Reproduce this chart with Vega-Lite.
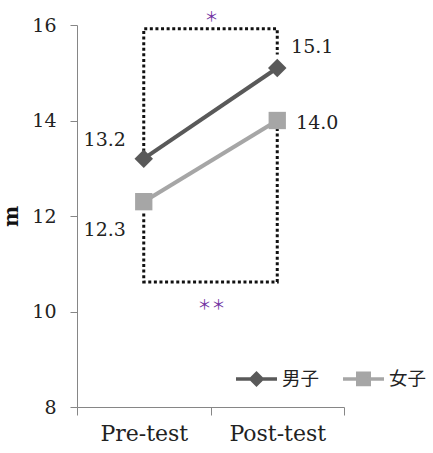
{
  "$schema": "https://vega.github.io/schema/vega-lite/v6.json",
  "width": 267,
  "height": 382,
  "autosize": {"type": "none"},
  "padding": {"left": 77, "top": 25, "right": 89, "bottom": 46},
  "background": "white",
  "config": {"view": {"stroke": null}, "font": "DejaVu Serif"},
  "datasets": {
    "series": [
      {"test": "Pre-test", "sex": "男子", "value": 13.2},
      {"test": "Post-test", "sex": "男子", "value": 15.1},
      {"test": "Pre-test", "sex": "女子", "value": 12.3},
      {"test": "Post-test", "sex": "女子", "value": 14.0}
    ],
    "brackets": [
      {"bracket": "top", "test": "Pre-test", "value": 13.35, "ord": 1},
      {"bracket": "top", "test": "Pre-test", "value": 15.92, "ord": 2},
      {"bracket": "top", "test": "Post-test", "value": 15.92, "ord": 3},
      {"bracket": "top", "test": "Post-test", "value": 15.38, "ord": 4},
      {"bracket": "bottom", "test": "Pre-test", "value": 12.05, "ord": 1},
      {"bracket": "bottom", "test": "Pre-test", "value": 10.62, "ord": 2},
      {"bracket": "bottom", "test": "Post-test", "value": 10.62, "ord": 3},
      {"bracket": "bottom", "test": "Post-test", "value": 13.83, "ord": 4}
    ],
    "stars": [
      {"test": "Pre-test", "value": 16.17, "label": "＊"},
      {"test": "Pre-test", "value": 10.14, "label": "＊＊"}
    ]
  },
  "encoding": {
    "x": {
      "field": "test",
      "type": "nominal",
      "sort": ["Pre-test", "Post-test"],
      "scale": {"type": "band", "domain": ["Pre-test", "Post-test"], "paddingInner": 0, "paddingOuter": 0},
      "axis": {
        "title": null,
        "labelAngle": 0,
        "tickBand": "extent",
        "grid": false,
        "domainColor": "#868686",
        "tickColor": "#868686",
        "tickSize": 8,
        "labelFont": "DejaVu Serif",
        "labelFontSize": 22,
        "labelColor": "#222222",
        "labelPadding": 8
      }
    },
    "y": {
      "field": "value",
      "type": "quantitative",
      "scale": {"domain": [8, 16], "nice": false, "zero": false},
      "axis": {
        "title": "m",
        "titleFont": "DejaVu Serif",
        "titleFontWeight": "bold",
        "titleFontSize": 20,
        "titleColor": "#111111",
        "titlePadding": 10,
        "values": [8, 10, 12, 14, 16],
        "grid": false,
        "domainColor": "#868686",
        "tickColor": "#868686",
        "tickSize": 7,
        "labelFont": "DejaVu Serif",
        "labelFontSize": 19,
        "labelColor": "#222222",
        "labelPadding": 14
      }
    }
  },
  "layer": [
    {
      "data": {"name": "brackets"},
      "mark": {"type": "line", "color": "#111111", "strokeWidth": 3, "strokeDash": [3, 2.6]},
      "encoding": {
        "detail": {"field": "bracket", "type": "nominal"},
        "order": {"field": "ord", "type": "quantitative"}
      }
    },
    {
      "data": {"name": "series"},
      "transform": [{"filter": "datum.sex === '男子'"}],
      "mark": {"type": "line", "strokeWidth": 4, "color": "#595959"},
      "encoding": {}
    },
    {
      "data": {"name": "series"},
      "transform": [{"filter": "datum.sex === '女子'"}],
      "mark": {"type": "line", "strokeWidth": 4, "color": "#a6a6a6"},
      "encoding": {}
    },
    {
      "data": {"name": "series"},
      "transform": [{"filter": "datum.sex === '男子'"}],
      "mark": {"type": "point", "filled": true, "opacity": 1, "shape": "diamond", "size": 340, "color": "#595959"}
    },
    {
      "data": {"name": "series"},
      "transform": [{"filter": "datum.sex === '女子'"}],
      "mark": {"type": "point", "filled": true, "opacity": 1, "shape": "square", "size": 300, "color": "#a6a6a6"}
    },
    {
      "data": {"name": "series"},
      "mark": {"type": "point", "filled": true, "opacity": 0},
      "encoding": {
        "color": {
          "field": "sex",
          "type": "nominal",
          "scale": {"domain": ["男子", "女子"], "range": ["#595959", "#a6a6a6"]},
          "legend": {
            "title": null,
            "orient": "none",
            "legendX": 157,
            "legendY": 331,
            "direction": "horizontal",
            "columns": 2,
            "columnPadding": 16,
            "padding": 0,
            "symbolSize": 1681,
            "symbolOpacity": 1,
            "labelFont": "Noto Sans CJK JP",
            "labelFontSize": 18.5,
            "labelColor": "#222222",
            "labelOffset": 3,
            "encode": {
              "symbols": {
                "update": {
                  "stroke": {"scale": "color", "field": "value"},
                  "strokeWidth": {"value": 3.5},
                  "opacity": {"value": 1}
                }
              }
            }
          }
        },
        "shape": {
          "field": "sex",
          "type": "nominal",
          "scale": {
            "domain": ["男子", "女子"],
            "range": [
              "M-1,0H1M-0.27,0L0,-0.27L0.27,0L0,0.27Z",
              "M-1,0H1M-0.28,-0.28H0.28V0.28H-0.28Z"
            ]
          },
          "legend": {
            "title": null,
            "orient": "none",
            "legendX": 157,
            "legendY": 331,
            "direction": "horizontal",
            "columns": 2,
            "columnPadding": 16,
            "padding": 0,
            "symbolSize": 1681,
            "symbolOpacity": 1,
            "labelFont": "Noto Sans CJK JP",
            "labelFontSize": 18.5,
            "labelColor": "#222222",
            "labelOffset": 3
          }
        }
      }
    },
    {
      "data": {"name": "series"},
      "transform": [{"filter": "datum.sex === '男子' && datum.test === 'Pre-test'"}],
      "mark": {"type": "text", "font": "DejaVu Serif", "fontSize": 19, "color": "#222222", "align": "center", "baseline": "middle", "dx": -39, "dy": -19},
      "encoding": {"text": {"field": "value", "type": "quantitative", "format": ".1f"}}
    },
    {
      "data": {"name": "series"},
      "transform": [{"filter": "datum.sex === '女子' && datum.test === 'Pre-test'"}],
      "mark": {"type": "text", "font": "DejaVu Serif", "fontSize": 19, "color": "#222222", "align": "center", "baseline": "middle", "dx": -39, "dy": 28},
      "encoding": {"text": {"field": "value", "type": "quantitative", "format": ".1f"}}
    },
    {
      "data": {"name": "series"},
      "transform": [{"filter": "datum.sex === '男子' && datum.test === 'Post-test'"}],
      "mark": {"type": "text", "font": "DejaVu Serif", "fontSize": 19, "color": "#222222", "align": "center", "baseline": "middle", "dx": 35, "dy": -21},
      "encoding": {"text": {"field": "value", "type": "quantitative", "format": ".1f"}}
    },
    {
      "data": {"name": "series"},
      "transform": [{"filter": "datum.sex === '女子' && datum.test === 'Post-test'"}],
      "mark": {"type": "text", "font": "DejaVu Serif", "fontSize": 19, "color": "#222222", "align": "center", "baseline": "middle", "dx": 40, "dy": 2},
      "encoding": {"text": {"field": "value", "type": "quantitative", "format": ".1f"}}
    },
    {
      "data": {"name": "stars"},
      "mark": {"type": "text", "font": "Noto Sans CJK JP", "fontSize": 14, "color": "#7030a0", "align": "center", "baseline": "middle", "dx": 1},
      "encoding": {
        "x": {"field": "test", "type": "nominal", "bandPosition": 1},
        "text": {"field": "label", "type": "nominal"}
      }
    }
  ]
}
